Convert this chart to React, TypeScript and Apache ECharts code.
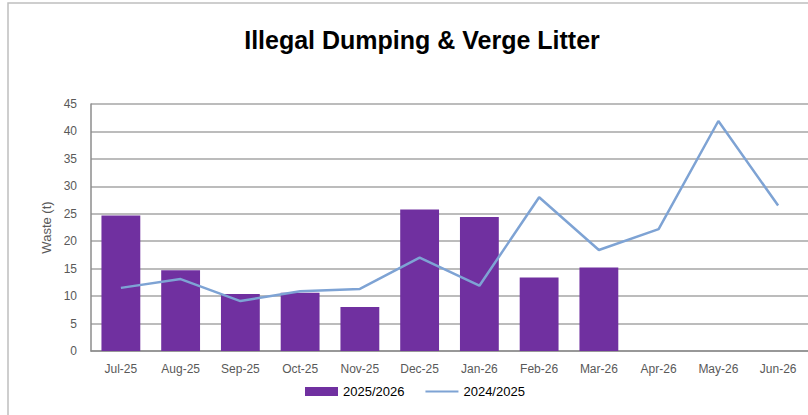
import React, { useEffect, useRef } from "react";
import * as echarts from "echarts";

const categories = ["Jul-25", "Aug-25", "Sep-25", "Oct-25", "Nov-25", "Dec-25", "Jan-26", "Feb-26", "Mar-26", "Apr-26", "May-26", "Jun-26"];
const series2526 = [24.7, 14.7, 10.4, 10.6, 8.0, 25.8, 24.4, 13.4, 15.2, null, null, null];
const series2425 = [11.5, 13.1, 9.1, 10.9, 11.3, 17.0, 11.9, 28.0, 18.4, 22.2, 41.9, 26.5];
const yTicks = { min: 0, max: 45, interval: 5 };

const FONT = "'Liberation Sans', Arial, sans-serif";

export default function App() {
  const ref = useRef<HTMLDivElement>(null);
  useEffect(() => {
    if (!ref.current) return;
    const chart = echarts.init(ref.current, undefined, { renderer: "svg" });
    chart.setOption({
      animation: false,
      backgroundColor: "#ffffff",
      title: {
        text: "Illegal Dumping & Verge Litter",
        left: 417,
        textAlign: "center",
        top: 22,
        textStyle: { fontFamily: FONT, fontSize: 25, fontWeight: "bold", color: "#000000" },
      },
      graphic: [
        {
          type: "rect",
          shape: { x: 8, y: 3, width: 830, height: 440 },
          style: { fill: "none", stroke: "#BFBFBF", lineWidth: 1.5 },
          silent: true,
        },
      ],
      legend: {
        bottom: 12,
        left: 300,
        itemWidth: 33,
        itemHeight: 9,
        itemGap: 20,
        textStyle: { fontFamily: FONT, fontSize: 13, color: "#000000" },
        data: [
          { name: "2025/2026", icon: "rect" },
          { name: "2024/2025", itemStyle: { opacity: 0 } },
        ],
      },
      grid: { left: 91, right: -3, top: 104, bottom: 64, containLabel: false },
      xAxis: {
        type: "category",
        data: categories,
        boundaryGap: true,
        axisLine: { lineStyle: { color: "#8C8C8C", width: 1.5 } },
        axisTick: { show: false },
        axisLabel: { fontFamily: FONT, fontSize: 12, color: "#595959", margin: 12 },
      },
      yAxis: {
        type: "value",
        min: yTicks.min,
        max: yTicks.max,
        interval: yTicks.interval,
        name: "Waste (t)",
        nameLocation: "middle",
        nameGap: 38,
        nameTextStyle: { fontFamily: FONT, fontSize: 13, color: "#595959" },
        axisLine: { show: true, lineStyle: { color: "#8C8C8C", width: 1.5 } },
        axisTick: { show: false },
        axisLabel: { fontFamily: FONT, fontSize: 12, color: "#595959", margin: 14 },
        splitLine: { lineStyle: { color: "#A6A6A6", width: 1.5 } },
      },
      series: [
        {
          name: "2025/2026",
          type: "bar",
          data: series2526,
          barWidth: "65%",
          itemStyle: { color: "#7030A0" },
        },
        {
          name: "2024/2025",
          type: "line",
          data: series2425,
          symbol: "none",
          lineStyle: { color: "#7EA3D4", width: 2.5 },
          itemStyle: { color: "#7EA3D4" },
        },
      ],
    });
    return () => chart.dispose();
  }, []);
  return <div ref={ref} style={{ position: "fixed", left: 0, top: 0, width: 808, height: 415 }} />;
}
